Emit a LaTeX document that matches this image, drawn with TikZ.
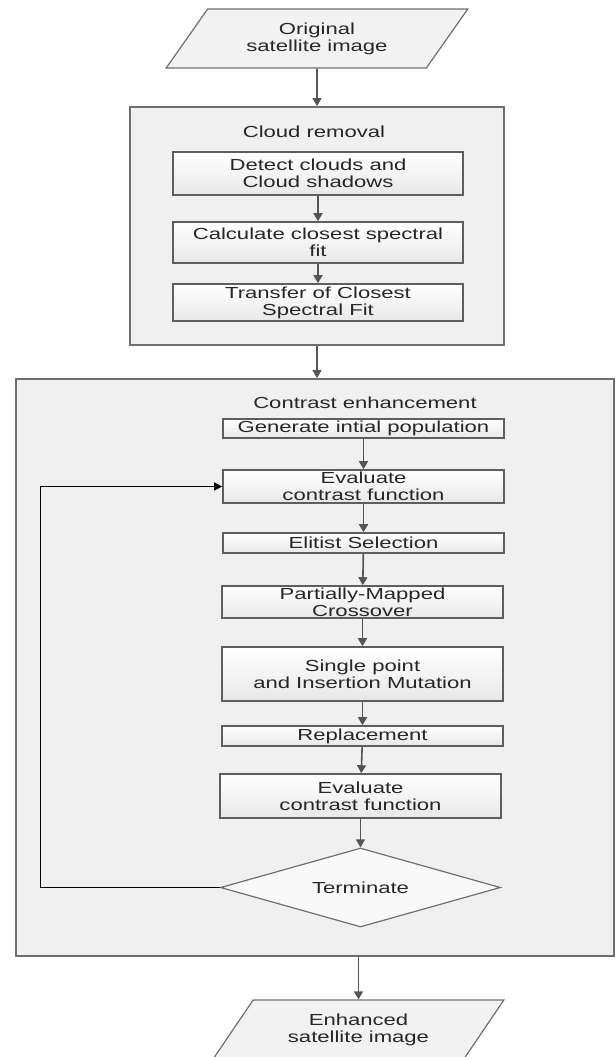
\documentclass[tikz,border=0pt]{standalone}
\usepackage{fontspec}
\setmainfont{Liberation Sans}[FakeStretch=1.38]
\usetikzlibrary{shapes.geometric,arrows.meta}

\definecolor{groupline}{HTML}{6E6E6E}
\definecolor{groupfill}{HTML}{F0F0F0}
\definecolor{boxline}{HTML}{5E5E5E}
\definecolor{procfill}{HTML}{E8E8E8}
\definecolor{iofill}{HTML}{F2F2F2}
\definecolor{arrowline}{HTML}{555555}

\begin{document}
\begin{tikzpicture}[x=0.5pt, y=-0.5pt,
    every node/.style={font=\fontsize{8}{8.5}\selectfont, text=black!85},
    stagebox/.style={draw=groupline, line width=0.9pt, fill=groupfill, inner sep=0pt},
    proc/.style={draw=boxline, line width=0.8pt, top color=white, bottom color=procfill,
        minimum width=140.5pt, inner sep=0pt, align=center},
    io/.style={trapezium, trapezium left angle=50, trapezium right angle=130,
        trapezium stretches=true, draw=groupline, line width=0.6pt, fill=iofill,
        minimum height=29.5pt, inner sep=0pt, align=center},
    decide/.style={diamond, aspect=3.5, draw=groupline, line width=0.6pt, fill=white!60!groupfill,
        minimum width=140pt, minimum height=39.5pt, inner sep=0pt},
    flow/.style={draw=arrowline, line width=0.8pt, -{Triangle[width=4.5pt,length=4pt]}},
    backline/.style={draw=black, line width=0.5pt, -{Triangle[width=4pt,length=4pt]}}]
    \useasboundingbox (0,0) rectangle (616,1057);

    \node[io, minimum width=152pt] (orig) at (317,38.5) {Original\\satellite image};

    % cloud removal stage
    \node[stagebox, minimum width=187pt, minimum height=119pt] (cloud) at (317,226) {};
    \node (cloudtitle) at (314,132) {Cloud removal};
    \node[proc, minimum width=145pt, minimum height=21.5pt] (detect) at (318,173.5) {Detect clouds and\\Cloud shadows};
    \node[proc, minimum width=145pt, minimum height=20.5pt] (calc) at (318,242.5) {Calculate closest spectral\\fit};
    \node[proc, minimum width=145pt, minimum height=18.5pt] (transfer) at (318,302.5) {Transfer of Closest\\Spectral Fit};

    % contrast enhancement stage
    \node[stagebox, minimum width=299pt, minimum height=288.5pt] (contrast) at (315,667.5) {};
    \node (contrasttitle) at (365,403) {Contrast enhancement};
    \node[proc, minimum height=9.5pt] (init) at (363.5,428.5) {Generate intial population};
    \node[proc, minimum height=16.5pt] (eval) at (363.5,486.5) {Evaluate\\contrast function};
    \node[proc, minimum height=10pt] (select) at (363.5,543) {Elitist Selection};
    \node[proc, minimum height=16pt] (cross) at (362.5,602) {Partially-Mapped\\Crossover};
    \node[proc, minimum height=27pt] (mutate) at (362.5,674) {Single point\\and Insertion Mutation};
    \node[proc, minimum height=10pt] (replace) at (362.5,736) {Replacement};
    \node[proc, minimum height=22pt] (evalnext) at (360.5,796) {Evaluate\\contrast function};
    \node[decide] (stop) at (360.5,887.5) {Terminate};
    \coordinate (loopcorner) at (40,887.5);

    \node[io, minimum width=146.5pt] (enhanced) at (358.5,1029.5) {Enhanced\\satellite image};

    \draw[flow] (orig.south) -- (orig.south |- cloud.north);
    \draw[flow] (detect) -- (calc);
    \draw[flow] (calc) -- (transfer);
    \draw[flow] (cloud.south) -- (cloud.south |- contrast.north);
    \draw[flow] (init) -- (eval);
    \draw[flow] (eval) -- (select);
    \draw[flow] (select) -- (cross);
    \draw[flow] (cross) -- (mutate);
    \draw[flow] (mutate) -- (replace);
    \draw[flow] (replace) -- (evalnext);
    \draw[flow] (evalnext) -- (stop);
    \draw[backline] (stop.west) -- (loopcorner) |- (eval.west);
    \draw[flow] (contrast.south -| enhanced.north) -- (enhanced.north);
\end{tikzpicture}
\end{document}
